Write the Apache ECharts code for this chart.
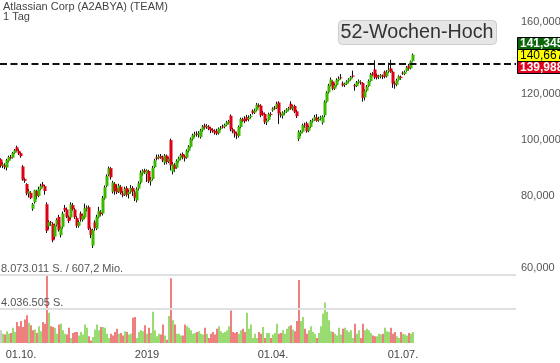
<!DOCTYPE html>
<html><head><meta charset="utf-8">
<script src="https://cdn.jsdelivr.net/npm/echarts@6/dist/echarts.min.js"></script>
<style>html,body{margin:0;padding:0;background:#fff}#c{width:560px;height:363px}</style>
</head><body><div id="c"></div>
<script>
// [open, close, low, high]
const candles = [
[92.6,90.2,89.6,93.0],[90.3,90.8,89.4,91.5],[90.5,89.8,89.0,91.2],[89.6,92.3,88.6,92.8],[92.0,93.5,91.5,94.0],
[93.4,93.0,92.6,94.2],[93.2,95.0,92.9,95.4],[95.0,96.0,94.6,96.5],[97.2,95.8,95.5,97.8],[95.8,94.8,94.2,96.4],
[94.9,93.8,93.2,95.3],[90.0,85.4,85.0,90.5],[85.6,85.0,84.3,86.0],[83.9,80.8,80.2,84.2],[80.8,81.5,79.5,82.3],
[81.0,79.3,79.0,81.6],[76.0,77.4,75.4,77.8],[78.0,81.8,77.6,82.0],[81.6,80.0,79.0,82.0],[80.0,82.2,79.6,83.0],
[82.2,83.3,81.8,84.0],[83.8,83.2,82.8,84.6],[83.2,81.6,80.4,83.6],[77.4,69.6,69.0,78.0],[70.9,72.1,70.0,72.6],
[72.0,71.8,71.0,72.4],[71.6,67.0,66.5,72.0],[68.0,71.2,67.3,71.6],[71.3,72.8,70.8,73.2],[73.6,69.8,69.4,74.2],
[68.4,70.6,67.8,70.8],[70.7,74.6,70.2,75.2],[76.3,75.6,75.0,77.2],[75.8,73.6,73.2,76.4],[73.6,72.4,71.8,74.0],
[73.4,77.3,72.8,78.0],[77.1,75.9,75.4,77.8],[75.8,73.5,73.0,76.2],[73.3,71.0,70.4,73.8],[71.0,72.1,70.5,72.6],
[74.6,72.9,72.2,75.2],[72.7,74.0,72.2,74.5],[73.4,76.2,73.0,77.6],[76.0,76.4,75.2,77.0],[76.5,70.2,69.8,77.0],
[70.0,68.5,67.6,70.6],[65.6,69.8,65.0,70.2],[72.0,70.4,69.6,72.6],[70.2,73.6,69.8,74.2],[73.5,75.4,73.2,76.6],
[75.0,74.4,73.8,75.6],[74.6,79.4,74.0,80.0],[79.2,82.8,78.8,83.4],[83.2,86.6,82.8,87.2],[87.0,89.4,86.6,90.0],
[89.4,86.2,85.4,89.8],[81.4,84.4,80.8,85.0],[84.0,81.6,80.4,84.6],[82.6,81.2,80.6,83.8],[81.4,83.4,81.0,84.0],
[83.0,81.0,80.5,83.6],[80.8,80.2,79.6,81.6],[80.4,82.4,80.0,83.0],[82.6,80.4,79.8,83.2],[80.6,81.2,79.2,82.0],
[81.4,82.6,80.8,83.6],[82.6,81.4,80.0,83.2],[81.2,79.4,78.4,81.8],[78.6,82.2,78.0,82.8],[82.4,84.2,81.8,84.8],
[84.4,87.8,83.8,88.6],[87.6,88.4,86.8,89.0],[88.6,88.0,87.4,89.2],[87.4,88.6,84.6,89.0],[88.4,84.8,84.2,88.8],
[84.8,85.4,83.4,86.2],[85.6,89.6,85.2,90.2],[89.8,92.2,89.4,92.8],[93.4,92.8,92.2,94.4],[93.0,93.6,92.6,94.4],
[93.8,93.2,92.8,94.6],[93.4,92.2,91.6,94.0],[91.4,94.0,90.6,94.6],[94.0,91.6,90.8,94.4],[91.8,92.8,91.2,93.4],
[100.0,90.4,88.6,100.6],[88.2,90.8,87.2,91.6],[90.6,89.2,88.0,91.2],[89.6,92.0,89.2,92.6],[92.0,93.0,91.4,93.6],
[93.0,94.2,92.4,94.8],[94.6,93.6,92.6,95.2],[93.8,93.0,91.8,94.2],[93.2,95.8,92.8,96.4],[95.8,97.4,95.2,98.0],
[97.4,100.4,97.0,101.0],[100.4,102.0,99.8,102.6],[102.0,102.4,101.2,103.4],[102.6,102.2,101.4,103.6],[102.2,102.8,101.0,103.6],
[101.2,104.0,100.6,104.6],[104.0,105.6,103.4,106.2],[106.0,105.2,104.4,106.8],[105.4,105.8,104.6,106.6],[105.6,104.6,104.0,106.2],
[104.8,104.0,102.8,105.4],[104.2,103.6,103.0,104.8],[103.8,103.0,102.2,104.4],[103.8,102.6,102.0,104.6],[102.8,104.6,102.2,105.2],
[104.6,105.0,104.0,105.8],[105.6,105.2,104.8,106.4],[105.4,106.2,104.8,106.8],[106.2,107.4,105.8,108.0],[107.2,107.8,106.6,108.4],
[110.2,104.4,103.6,110.8],[104.4,103.6,102.8,105.0],[103.6,102.6,101.0,104.2],[102.6,101.8,100.4,103.2],[101.6,105.4,101.0,106.0],
[105.4,108.8,104.8,109.4],[108.6,108.0,107.4,109.4],[109.0,107.8,107.0,110.0],[109.6,108.4,107.8,110.6],[108.6,109.4,107.8,110.4],
[109.6,110.2,109.0,111.0],[112.4,111.4,110.8,113.0],[111.6,112.6,111.0,113.4],[112.6,115.2,112.2,116.0],[115.0,114.4,113.8,115.8],
[114.8,110.4,109.6,115.4],[111.6,110.8,110.2,112.4],[111.0,107.4,106.6,111.6],[107.4,108.2,106.2,109.0],[108.4,111.0,108.0,111.6],
[111.0,110.6,109.8,111.8],[112.6,113.4,112.0,114.0],[113.8,113.4,112.8,114.6],[113.6,115.6,113.2,116.6],[116.2,111.2,106.6,116.8],
[111.0,110.4,109.4,111.8],[110.2,111.6,109.0,112.2],[111.6,112.0,110.6,112.8],[112.0,113.0,111.4,113.6],[113.0,113.6,112.4,114.2],
[115.6,113.4,112.8,116.8],[113.4,114.4,112.6,115.0],[114.6,112.0,111.4,115.2],[112.2,110.0,109.2,112.8],[100.4,103.4,99.6,104.0],
[102.6,103.4,101.6,104.0],[103.4,106.2,103.0,106.8],[106.2,106.0,105.0,107.2],[107.0,103.6,103.0,107.6],[103.8,105.4,103.2,106.0],
[105.4,107.8,105.0,108.4],[107.8,108.4,107.2,109.0],[108.4,109.6,108.0,110.6],[109.4,108.0,107.6,111.0],[108.2,108.8,107.6,109.8],
[109.0,109.6,108.2,110.2],[107.2,109.8,106.4,110.4],[110.4,116.6,109.6,117.2],[116.6,121.0,116.0,121.6],[121.0,124.4,120.4,125.2],
[124.4,127.4,124.0,128.4],[126.4,122.8,122.0,127.0],[122.8,124.6,122.2,125.4],[124.6,127.2,124.0,128.0],[127.0,127.8,126.4,129.0],
[128.4,128.0,127.4,130.2],[125.4,124.4,123.8,126.4],[124.6,125.2,123.6,125.8],[125.2,126.4,124.6,127.0],[126.4,127.4,125.8,128.0],
[127.4,128.6,126.8,129.2],[129.4,128.8,128.2,132.0],[124.6,124.0,121.8,125.2],[124.0,126.0,123.6,126.6],[126.0,126.6,125.2,127.4],
[126.0,125.6,124.8,127.0],[125.6,118.4,116.6,126.0],[118.6,121.6,117.2,122.4],[121.8,123.8,121.2,124.6],[124.0,126.6,123.6,127.4],
[126.6,130.0,126.2,130.8],[130.4,129.8,129.0,131.2],[132.6,128.4,127.6,137.6],[129.6,128.4,127.4,130.4],[128.6,129.0,127.6,129.8],
[129.0,129.6,128.0,130.2],[129.4,128.8,127.6,130.0],[131.4,128.8,128.0,132.0],[129.0,131.4,128.4,132.2],[131.6,132.4,130.8,136.2],
[133.2,131.4,130.8,137.8],[131.4,125.4,123.2,132.0],[125.6,124.8,122.8,126.4],[124.8,127.0,124.0,127.8],[127.2,129.0,126.8,129.6],
[128.8,128.2,127.2,129.4],[130.6,130.2,129.8,131.6],[130.2,131.4,129.6,132.0],[131.8,133.6,131.4,134.4],[134.6,133.0,132.0,135.6],
[133.2,137.0,132.6,137.4],[137.2,140.667,136.8,141.345]
];
// volume in millions of shares
const volumes = [
1.5,1.1,1.0,1.4,1.1,1.2,1.8,1.3,2.5,2.0,
2.6,1.9,2.8,3.3,2.4,2.1,1.5,1.6,1.2,2.0,
1.4,2.5,2.3,8.073011,3.6,2.0,1.9,1.8,1.1,2.2,
2.3,1.5,1.1,1.0,1.8,0.6,1.2,1.3,1.3,0.9,
1.3,1.0,2.2,1.8,0.8,0.3,0.7,1.6,2.2,1.5,
1.9,1.9,1.8,1.1,0.6,1.1,0.9,1.3,1.7,1.1,
1.2,0.9,1.4,1.3,1.0,1.1,3.0,3.1,0.6,1.3,
1.5,1.4,2.1,1.1,1.8,1.2,3.7,1.5,0.8,1.1,
1.0,2.2,0.9,0.4,3.2,7.68,2.7,2.2,1.1,1.1,
0.9,0.9,2.2,2.0,1.8,1.5,1.1,1.2,1.3,1.4,
1.1,1.0,1.8,1.1,0.6,1.1,1.3,1.0,1.7,2.0,
1.4,1.2,1.3,1.5,2.0,3.86,1.3,1.2,1.3,1.1,
1.5,1.7,1.3,3.6,1.7,2.2,0.6,1.1,0.6,1.3,
1.1,1.9,0.6,1.2,1.2,0.6,1.0,1.2,2.3,1.1,
1.2,1.5,1.1,1.7,2.0,2.1,1.6,1.4,2.6,7.49,
2.6,3.1,1.7,1.1,1.5,2.0,1.3,1.1,0.6,1.2,
2.0,3.5,4.8,3.7,2.7,1.4,1.3,1.1,0.9,1.8,
1.0,1.7,1.8,1.5,1.3,1.5,0.6,2.3,1.1,1.5,
0.6,2.3,1.5,1.7,1.5,1.2,0.9,0.8,0.8,1.1,
1.0,1.1,1.8,1.4,1.3,1.8,1.1,1.3,0.8,0.6,
1.3,1.1,1.0,0.9,1.2,1.1,1.3
];
const priceTicks = [60, 80, 100, 120, 160];
const high52 = 135.6;
const lastQuotes = [141.345, 140.667, 139.988];
const volMax = 8073011;
const turnoverText = '607,2 Mio.';
const totalSlots = 258;
const holidays = ['2018-11-22','2018-12-05','2018-12-25','2019-01-01'];

const dates = [];
const d = new Date(Date.UTC(2018, 8, 17));
while (dates.length < totalSlots) {
  const wd = d.getUTCDay();
  const s = d.toISOString().slice(0, 10);
  if (wd !== 0 && wd !== 6 && holidays.indexOf(s) < 0) dates.push(s);
  d.setUTCDate(d.getUTCDate() + 1);
}
function isQuarterStart(i) {
  if (i <= 0) return false;
  const m = dates[i].slice(5, 7), pm = dates[i - 1].slice(5, 7);
  return m !== pm && ['01', '04', '07', '10'].indexOf(m) >= 0;
}
const fmt3 = v => v.toFixed(3).replace('.', ',');
const de = n => String(Math.floor(n)).replace(/\B(?=(\d{3})+(?!\d))/g, '.');
const FONT = "'Liberation Sans', Arial, sans-serif";

const bodies = candles.map(c => [c[0], c[1], Math.min(c[0], c[1]), Math.max(c[0], c[1])]);
const volData = volumes.map((v, i) => ({
  value: v,
  itemStyle: { color: i === 0 ? '#c8c8c8' : (candles[i][1] >= candles[i - 1][1] ? '#8ed862' : '#ec7272') }
}));

const chart = echarts.init(document.getElementById('c'), null, { renderer: 'canvas' });
chart.setOption({
  animation: false,
  backgroundColor: '#fff',
  textStyle: { fontFamily: FONT },
  grid: [
    { left: 0, top: 0, width: 516, height: 268 },
    { left: 0, top: 275, width: 516, height: 68 }
  ],
  xAxis: [
    { type: 'category', gridIndex: 0, data: dates, show: false },
    { type: 'category', gridIndex: 1, data: dates,
      axisLine: { show: false }, axisTick: { show: false },
      axisLabel: { interval: (i) => isQuarterStart(i), margin: 6, color: '#444', fontSize: 11, fontFamily: FONT,
        formatter: (v) => v.slice(5, 7) === '01' ? v.slice(0, 4) : v.slice(8, 10) + '.' + v.slice(5, 7) + '.' } }
  ],
  yAxis: [
    { type: 'log', gridIndex: 0, min: 60, max: 175, show: false },
    { type: 'value', gridIndex: 1, min: 0, max: volMax / 1e6, show: false }
  ],
  series: [
    { type: 'candlestick', xAxisIndex: 0, yAxisIndex: 0, data: candles, barWidth: 1, silent: true,
      itemStyle: { color: '#111', color0: '#111', borderColor: '#111', borderColor0: '#111', borderWidth: 1 },
      markLine: { silent: true, symbol: 'none', animation: false,
        lineStyle: { color: 'rgba(0,0,0,0)', width: 0 },
        label: { position: 'end', distance: 5, color: '#555', fontSize: 11, fontFamily: FONT, formatter: p => fmt3(p.value) },
        data: priceTicks.map(v => ({ yAxis: v })) } },
    { type: 'candlestick', xAxisIndex: 0, yAxisIndex: 0, data: bodies, barWidth: 3, silent: true,
      itemStyle: { color: '#3db800', color0: '#dc0018', borderColor: '#3db800', borderColor0: '#dc0018', borderWidth: 0 },
      markLine: { silent: true, symbol: 'none', animation: false,
        lineStyle: { color: '#111', width: 2, type: [7, 3.5] },
        label: { show: false },
        data: [{ yAxis: high52 }] } },
    { type: 'bar', xAxisIndex: 1, yAxisIndex: 1, data: volData, barWidth: '90%', silent: true,
      markLine: { silent: true, symbol: 'none', animation: false,
        lineStyle: { color: '#e0e0e0', width: 2, type: 'solid' },
        label: { position: 'insideStartTop', distance: [1, 1], color: '#555', fontSize: 11, fontFamily: FONT },
        data: [
          { yAxis: volMax / 1e6, label: { formatter: de(volMax) + ' S. / ' + turnoverText } },
          { yAxis: volMax / 2e6, label: { formatter: de(volMax / 2) + ' S.' } }
        ] } }
  ],
  graphic: [
    { type: 'text', left: 3, top: 1, style: { text: 'Atlassian Corp (A2ABYA) (TEAM)', fill: '#444', font: '11px ' + FONT } },
    { type: 'text', left: 3, top: 11, style: { text: '1 Tag', fill: '#444', font: '11px ' + FONT } },
    { type: 'rect', shape: { x: 338.5, y: 20.5, width: 158, height: 24, r: 4 }, style: { fill: '#e6e6e6', stroke: '#cccccc', lineWidth: 1 } },
    { type: 'text', x: 417, y: 33, style: { text: '52-Wochen-Hoch', fill: '#333', font: '19.7px ' + FONT, align: 'center', verticalAlign: 'middle' } },
    { type: 'rect', shape: { x: 517.5, y: 37.5, width: 46, height: 12 }, style: { fill: '#0a660a', stroke: '#000', lineWidth: 1 } },
    { type: 'rect', shape: { x: 517.5, y: 49.5, width: 46, height: 12 }, style: { fill: '#ffff00', stroke: '#000', lineWidth: 1 } },
    { type: 'rect', shape: { x: 517.5, y: 61.5, width: 46, height: 12 }, style: { fill: '#e2001a', stroke: '#000', lineWidth: 1 } },
    { type: 'text', x: 520, y: 44, style: { text: fmt3(lastQuotes[0]), fill: '#fff', font: 'bold 12px ' + FONT, verticalAlign: 'middle' } },
    { type: 'text', x: 520, y: 56, style: { text: fmt3(lastQuotes[1]), fill: '#000', font: '12px ' + FONT, verticalAlign: 'middle' } },
    { type: 'text', x: 520, y: 68, style: { text: fmt3(lastQuotes[2]), fill: '#fff', font: 'bold 12px ' + FONT, verticalAlign: 'middle' } }
  ]
});
</script>
</body></html>
